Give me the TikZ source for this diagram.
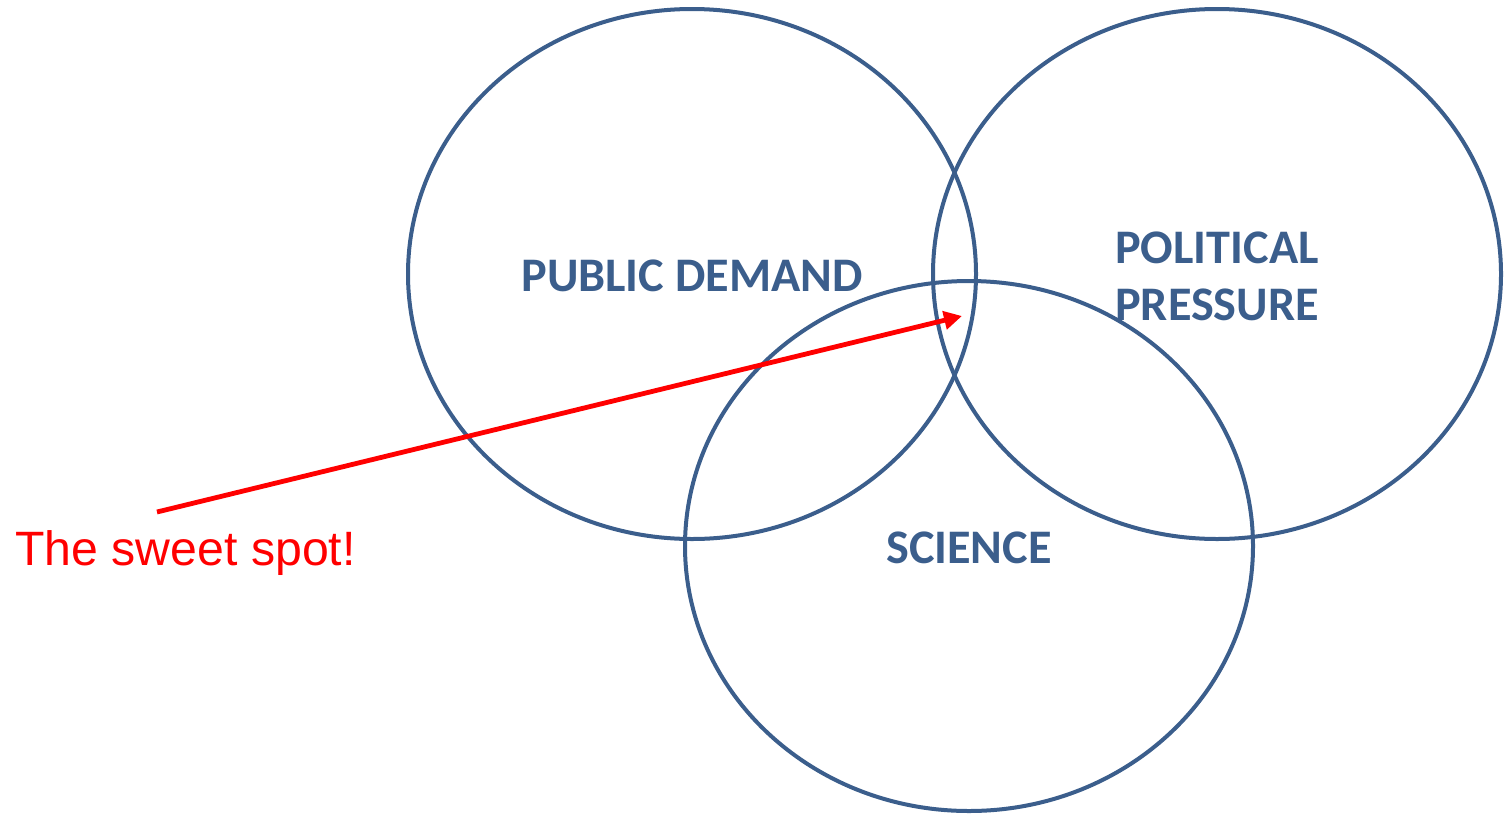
\documentclass[tikz,border=0pt]{standalone}
\usepackage{fontspec}
\setmainfont{Carlito}
\newfontfamily\sweetfont{Liberation Sans}
\usepackage{xcolor}
\usetikzlibrary{arrows.meta,positioning}
\definecolor{setblue}{RGB}{59,94,140}
\definecolor{spotred}{RGB}{255,0,0}

\begin{document}
\begin{tikzpicture}[x=0.5bp,y=-0.5bp,>={Triangle[length=9bp,width=9bp]},
  set/.style={text=setblue,font=\fontsize{24.2}{28.5}\selectfont\bfseries,align=center,inner sep=0pt},
  ring/.style={draw=setblue,line width=2bp},
  spot/.style={text=spotred,font=\sweetfont\fontsize{24.2}{28}\selectfont,inner sep=0pt}]

	\useasboundingbox (0,0) rectangle (1508,822);

	% The sets
	\coordinate (cPD) at (692,274);
	\coordinate (cPP) at (1217,274);
	\coordinate (cSC) at (969,546);
	\draw [ring] (cPD) ellipse [x radius=284, y radius=265];
	\draw [ring] (cPP) ellipse [x radius=284, y radius=265];
	\draw [ring] (cSC) ellipse [x radius=284, y radius=265];

	\node [set] at (692,276) (pd) {PUBLIC DEMAND};
	\node [set] at (1217,276) (pp) {POLITICAL\\PRESSURE};
	\node [set] at (969,548) (sc) {SCIENCE};

	% The sweet spot
	\node [spot,anchor=west] at (15,553) (sw) {The sweet spot!};
	\coordinate (tail) at (157,512);
	\coordinate (hit) at (962,316);

	\path
	(tail) edge[->,spotred,line width=2.4bp] (hit);

\end{tikzpicture}
\end{document}
